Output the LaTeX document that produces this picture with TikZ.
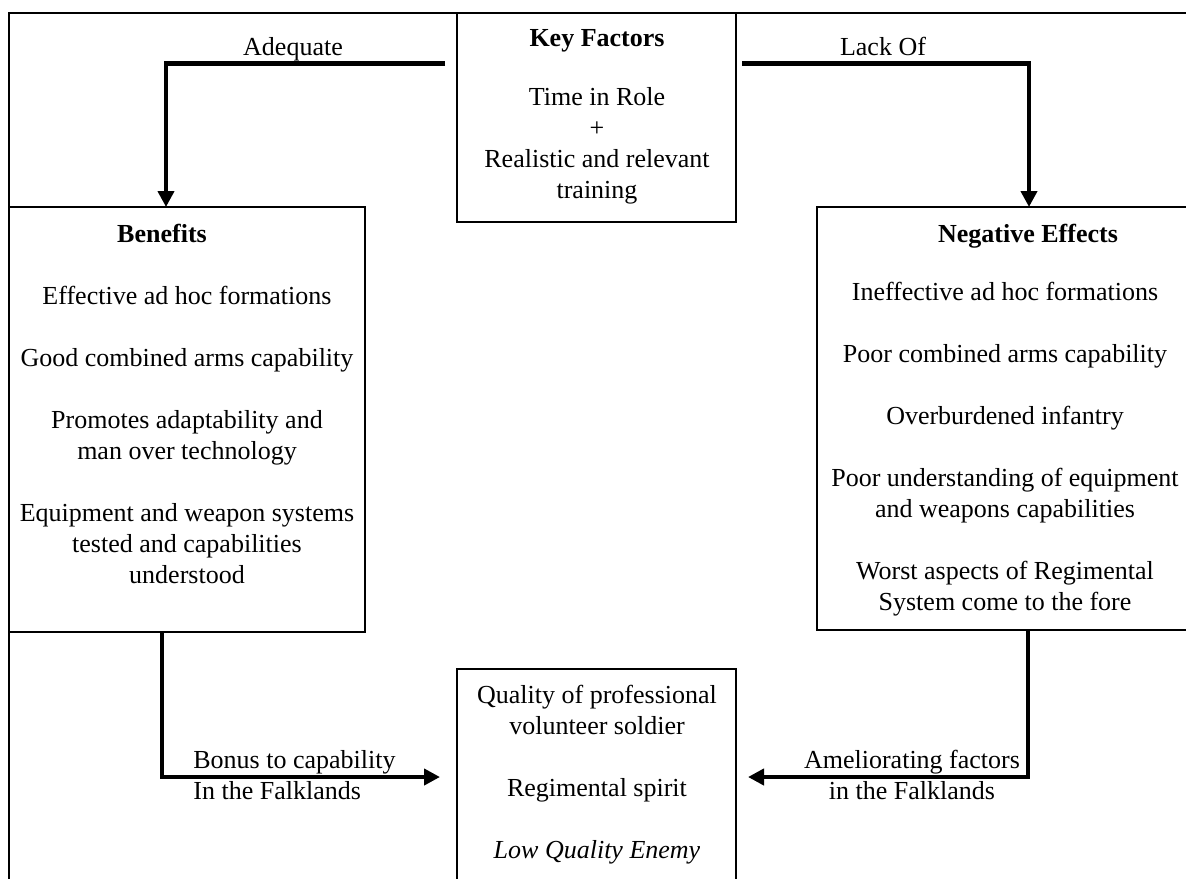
\documentclass[tikz,border=0pt]{standalone}
\usepackage{fontspec}
\setmainfont{Liberation Serif}
\usetikzlibrary{positioning,arrows.meta,calc}
\tikzset{outline/.style={line width=1.2pt}}
\tikzset{box/.style={draw,line width=0.8pt,inner sep=0pt,outer sep=0pt}}
\tikzset{bigbox/.style={box,line width=1.1pt}}
\tikzset{flow/.style={-{Triangle[length=8pt,width=8pt]},line width=2.4pt}}
\tikzset{body/.style={align=center,inner sep=0pt,font=\fontsize{13}{15.5}\selectfont}}
\tikzset{heading/.style={body,font=\fontsize{13}{15.5}\selectfont\bfseries}}

\begin{document}
\begin{tikzpicture}[x=0.5pt,y=-0.5pt]

	\useasboundingbox (0,0) rectangle (1186,878);
	\clip (0,0) rectangle (1186,878);

	%% outer frame
	\draw[outline] (9,900) -- (9,13) -- (1200,13);

	%% boxes
	\node[box,minimum width=139.5pt,minimum height=104.5pt] (key) at (596.5,117.5) {};
	\node[bigbox,minimum width=178pt,minimum height=212.5pt] (ben) at (187,419.5) {};
	\node[bigbox,minimum width=189.5pt,minimum height=211.5pt] (neg) at (1006.5,418.5) {};
	\node[box,minimum width=139.5pt,minimum height=108pt] (qual) at (596.5,777) {};

	%% box texts
	\node[heading] (keyhead) at (597,41) {Key Factors};
	\node[body] (keytext) at (597,146) {Time in Role\\ +\\ Realistic and relevant\\ training};

	\node[heading] (benhead) at (162,233) {Benefits};
	\node[body] (bentext) at (187,434.5) {Effective ad hoc formations\\[15.5pt]
		Good combined arms capability\\[15.5pt]
		Promotes adaptability and\\ man over technology\\[15.5pt]
		Equipment and weapon systems\\ tested and capabilities\\ understood};

	\node[heading] (neghead) at (1028,236) {Negative Effects};
	\node[body] (negtext) at (1005,449.5) {Ineffective ad hoc formations\\[15.5pt]
		Poor combined arms capability\\[15.5pt]
		Overburdened infantry\\[15.5pt]
		Poor understanding of equipment\\ and weapons capabilities\\[15.5pt]
		Worst aspects of Regimental\\ System come to the fore};

	\node[body] (qualtext) at (597,774.5) {Quality of professional\\ volunteer soldier\\[15.5pt]
		Regimental spirit\\[15.5pt]
		\textit{Low Quality Enemy}};

	%% connectors
	\coordinate (adq) at ([shift={(-6pt,27pt)}]key.west);
	\coordinate (lack) at ([shift={(3pt,27pt)}]key.east);
	\draw[flow] (adq) -| ([xshift=-10.5pt]ben.north);
	\draw[flow] (lack) -| ([xshift=11.25pt]neg.north);
	\draw[flow] ([xshift=-12.5pt]ben.south) |- ([xshift=-8.5pt]qual.west);
	\draw[flow] ([xshift=10.75pt]neg.south) |- ([xshift=6pt]qual.east);

	%% connector labels
	\node[body] (adqlbl) at (293,49) {Adequate};
	\node[body] (lacklbl) at (883,46) {Lack Of};
	\node[body,align=left,anchor=west] (bonuslbl) at (193,775) {Bonus to capability\\ In the Falklands};
	\node[body] (amellbl) at (912,775) {Ameliorating factors\\ in the Falklands};

\end{tikzpicture}
\end{document}
